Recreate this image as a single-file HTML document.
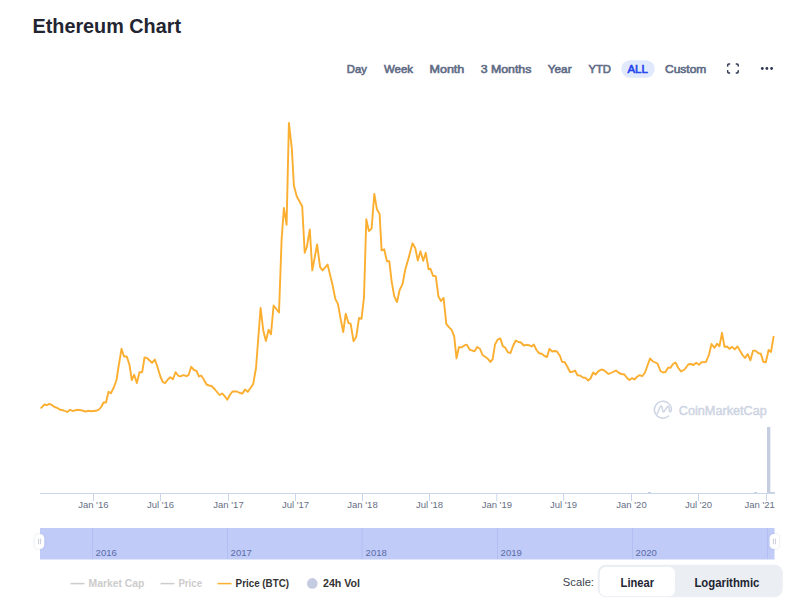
<!DOCTYPE html>
<html><head><meta charset="utf-8">
<style>
html,body{margin:0;padding:0;background:#fff;width:800px;height:603px;overflow:hidden}
svg{position:absolute;left:0;top:0;display:block}
text{font-family:"Liberation Sans",sans-serif}
</style></head>
<body>
<svg width="800" height="603" viewBox="0 0 800 603">
<!-- title -->
<text x="32.5" y="33" font-size="21" font-weight="700" fill="#222531" textLength="148.5" lengthAdjust="spacingAndGlyphs">Ethereum Chart</text>
<!-- toolbar -->
<g font-size="11" font-weight="400" fill="#5f6c86" stroke="#5f6c86" stroke-width="0.6">
<text x="346.8" y="72.8" textLength="20" lengthAdjust="spacingAndGlyphs">Day</text>
<text x="384" y="72.8" textLength="29" lengthAdjust="spacingAndGlyphs">Week</text>
<text x="429.5" y="72.8" textLength="34.8" lengthAdjust="spacingAndGlyphs">Month</text>
<text x="480.8" y="72.8" textLength="50.5" lengthAdjust="spacingAndGlyphs">3 Months</text>
<text x="547.8" y="72.8" textLength="23.8" lengthAdjust="spacingAndGlyphs">Year</text>
<text x="588.4" y="72.8" textLength="22.6" lengthAdjust="spacingAndGlyphs">YTD</text>
<rect x="621.3" y="60.3" width="33.4" height="17.5" rx="8.75" fill="#e1e9fc" stroke="none"/>
<text x="627.5" y="72.8" textLength="20.3" lengthAdjust="spacingAndGlyphs" fill="#1f44ee" stroke="#1f44ee">ALL</text>
<text x="665" y="72.8" textLength="41.3" lengthAdjust="spacingAndGlyphs">Custom</text>
</g>
<!-- fullscreen icon -->
<g stroke="#2e3753" stroke-width="1.5" fill="none" stroke-linecap="round" stroke-linejoin="round">
<path d="M727.7 66 V65 Q727.7 63.9 728.8 63.9 H729.6 M736.3 63.9 H737.1 Q738.2 63.9 738.2 65 V66 M738.2 70.8 V71.8 Q738.2 72.9 737.1 72.9 H736.3 M729.6 72.9 H728.8 Q727.7 72.9 727.7 71.8 V70.8"/>
</g>
<g fill="#2e3753">
<circle cx="762.3" cy="68.5" r="1.4"/><circle cx="766.9" cy="68.5" r="1.4"/><circle cx="771.6" cy="68.5" r="1.4"/>
</g>

<!-- watermark -->
<g fill="none" stroke="#cdd4e3" stroke-width="1.45" stroke-linecap="round" stroke-linejoin="round">
<path d="M671.4 410.2 A8.5 8.5 0 1 0 668.6 416"/>
<path d="M657.3 413.8 L660.1 406.8 Q661.1 404.9 662 406.9 L662.7 410.8 Q663.3 413 664.4 411.2 L667.2 406.9 Q668.3 405.2 668.9 407.4 L669.4 410.9 Q670.2 413.2 671.4 410.2"/>
</g>
<text x="678.8" y="414.8" font-size="12.5" font-weight="400" fill="#cdd4e3" stroke="#cdd4e3" stroke-width="0.45" textLength="88" lengthAdjust="spacingAndGlyphs">CoinMarketCap</text>

<!-- volume bars -->
<rect x="767" y="427" width="3.3" height="66.5" fill="#c5cde0"/>
<rect x="648" y="492" width="3" height="1.5" fill="#c5cde0"/>
<rect x="754" y="492" width="3" height="1.5" fill="#c5cde0"/>
<rect x="770" y="492" width="4.8" height="1.5" fill="#c5cde0"/>

<!-- x axis -->
<g stroke="#ccd6eb" stroke-width="1" fill="none">
<path d="M40 493.5 H775"/>
<path d="M93.5 493 V501 M160.5 493 V501 M228.5 493 V501 M295.5 493 V501 M362.5 493 V501 M429.5 493 V501 M496.8 493 V501 M563.5 493 V501 M631.5 493 V501 M698.5 493 V501 M766.5 493 V501"/>
</g>
<g font-size="9.5" fill="#666f86" text-anchor="middle">
<text x="93.3" y="508">Jan '16</text>
<text x="160.5" y="508">Jul '16</text>
<text x="228.5" y="508">Jan '17</text>
<text x="295.5" y="508">Jul '17</text>
<text x="362.5" y="508">Jan '18</text>
<text x="429.5" y="508">Jul '18</text>
<text x="496.8" y="508">Jan '19</text>
<text x="563.5" y="508">Jul '19</text>
<text x="631.5" y="508">Jan '20</text>
<text x="698.5" y="508">Jul '20</text>
<text x="759.7" y="508">Jan '21</text>
</g>

<!-- navigator -->
<rect x="40" y="528" width="734.5" height="31.5" fill="#c0cbf7"/>
<g stroke="#b3bef2" stroke-width="1">
<path d="M92.5 528 V559 M227.5 528 V559 M362 528 V559 M497.5 528 V559 M632.5 528 V559 M767.5 528 V559"/>
</g>
<g font-size="9.5" fill="#5a6aa8">
<text x="95.6" y="556.3">2016</text>
<text x="230.6" y="556.3">2017</text>
<text x="365.6" y="556.3">2018</text>
<text x="500.6" y="556.3">2019</text>
<text x="635.6" y="556.3">2020</text>
</g>
<!-- handles -->
<defs><filter id="sh" x="-50%" y="-50%" width="200%" height="200%"><feDropShadow dx="0" dy="0" stdDeviation="0.9" flood-color="#8090b0" flood-opacity="0.35"/></filter></defs>
<g filter="url(#sh)">
<rect x="34.8" y="533.9" width="9.4" height="15.2" rx="4.2" fill="#fff"/>
<rect x="769.6" y="533.9" width="9.4" height="15.2" rx="4.2" fill="#fff"/>
</g>
<path d="M38.6 538.6 V544.2 M40.6 538.6 V544.2 M773.4 538.6 V544.2 M775.4 538.6 V544.2" stroke="#c3c8d6" stroke-width="0.9"/>

<!-- price line -->
<path d="M41.2 407.8 L44.5 404.5 L46.8 405.2 L49.5 403.8 L51.5 404.8 L54.5 407 L57 407.8 L60 409.8 L64 410.5 L67.2 412 L70 409.8 L72.5 411 L77 409.8 L81 410.2 L85.5 411.5 L88 410.8 L91 411.3 L96 410.8 L99 409.5 L101.5 406.5 L103.5 402.5 L106 402.5 L108.5 391.8 L111 393.2 L114 387 L116.5 380 L118.5 367 L121.5 348.8 L124 356.5 L126.8 356.5 L129.5 365 L131.8 380 L134.2 374.8 L136.8 383 L139.5 372.2 L142.2 372.2 L144.5 357.5 L147.2 358.2 L152 362.8 L154.8 359.5 L157 365.5 L160.5 377 L162.8 382 L165 383.2 L168 379.2 L170.5 377.2 L173 379.2 L175.5 372.2 L178.5 376 L181 376.2 L183.5 375.2 L186.5 376.2 L188.5 375.2 L191.2 366.8 L194 370 L196.5 370.8 L199 376.5 L201.2 375.5 L203.5 379 L206.5 384.5 L209 385.5 L211.5 386 L215 389.5 L219.5 395 L222.2 393.5 L224.5 395.8 L227.2 399.8 L230 394.8 L232.5 391.5 L237 391.5 L239.8 393 L242.5 393.5 L245 389.5 L247.8 391.8 L250.5 388 L253.2 384 L256 368 L260.6 307.9 L263.3 330.5 L265.9 341.1 L268.6 329.8 L271 334.2 L273.6 305.5 L279 312.5 L281.6 239.8 L283.9 207.9 L286.6 224.8 L288.9 122.9 L291.8 148.1 L293.9 185.5 L296.7 196.2 L302.2 206.3 L304.7 252.7 L306.8 247.2 L309.8 229.5 L312.3 270.4 L317.1 244.4 L320.1 267.1 L322.6 270.4 L327.6 264.6 L332.5 284.8 L335.3 298.9 L337.9 303.9 L340.8 319.7 L343.2 332.1 L345.7 313.8 L348.5 323 L350.7 323.8 L353.5 341.2 L356.2 337.1 L359 318 L361.5 318.8 L364 297.3 L366.3 219.2 L368.9 231.1 L371.6 228.5 L374.3 193.9 L376.9 209.2 L379.6 213.9 L381.6 250.4 L384.2 249.3 L386.9 261.2 L389.3 261.2 L391.7 281.8 L394.3 296.4 L397 302 L399.7 289.8 L402.6 283.8 L405.2 269.8 L408.6 257.9 L412.5 243.3 L415.2 247.9 L417.8 260.5 L420.5 251.2 L423.2 260.8 L425.8 252.8 L428.5 269.2 L430.5 268.8 L433.1 275.8 L435.8 276.2 L438.4 296.4 L441 300.9 L443.6 298 L446.3 323.8 L448.9 327.1 L451.6 329.8 L454.2 336.4 L456.5 358.3 L458.9 347.3 L461.8 347.3 L464.4 345.4 L466.8 344.6 L469.7 349.7 L474.5 351.3 L477.2 347 L480.1 349 L482.5 355 L487.4 358.3 L490.4 361.9 L492.7 359.2 L495 344.4 L497.6 339.7 L500.3 338.4 L502.9 346.4 L505 347.3 L507.9 352.3 L510.5 353 L513 346 L515.8 340.5 L518.5 342 L521 342.5 L523.8 345.5 L526.5 344.8 L529 345.2 L531.5 346.5 L533.8 344.5 L536.5 350 L539 353.2 L541.8 353.8 L544.5 356 L547 357 L549.5 348.8 L552.2 351.5 L554.5 351 L557 351.5 L560 356 L562 361.8 L564.8 362.2 L567.5 367 L570 372 L572.5 371.8 L575 370.5 L577.5 375.2 L580 375.5 L583 377.5 L585.5 377.8 L588.2 380.5 L590.5 378.5 L593.2 372.5 L595.5 374.5 L598.5 371.2 L601.5 369.5 L604 370.2 L608.5 374 L612 372.5 L616 370.5 L619 373 L621.5 374 L624.5 374.5 L627 378 L629.5 380 L632 378.2 L634.5 379.5 L637 376.8 L639.5 375.2 L642.2 376.2 L645 372.5 L650 358.5 L653 361.5 L657.5 363.5 L660.5 371 L663 372.5 L665.5 372 L668 367.8 L670.5 367.8 L673 364 L675.5 362.5 L678 367.5 L681 371.5 L684.5 369.5 L688.5 364.2 L691 364 L693.5 365 L696.2 362.8 L699 364.8 L701.5 362.2 L706 362 L709 354.5 L711.5 344 L714.5 347.8 L717 343.8 L719.5 346.2 L722 332.8 L724.5 346.8 L727 346.5 L729.5 348.8 L732.2 346.9 L734.8 349.4 L737.5 346.4 L740 350.8 L742.4 354.8 L745.1 358 L747.7 354 L750.4 360.3 L753.1 350.6 L755.4 350.6 L758.4 353.3 L760.8 353.6 L763.3 361.8 L765.8 362.3 L768.6 350 L771 352 L773.6 336.7" fill="none" stroke="#fbae30" stroke-width="1.9" stroke-linejoin="round" stroke-linecap="round"/>

<!-- legend -->
<g stroke-width="1.5">
<path d="M70.5 583.6 H84.5" stroke="#cccccc"/>
<path d="M160.5 583.6 H174.5" stroke="#cccccc"/>
<path d="M217.5 583.6 H231.5" stroke="#fbae30"/>
</g>
<circle cx="312.3" cy="583.4" r="5.3" fill="#c5cbe0"/>
<g font-size="10.5" font-weight="700">
<text x="88.6" y="587" fill="#cccccc" textLength="55.8" lengthAdjust="spacingAndGlyphs">Market Cap</text>
<text x="178.4" y="587" fill="#cccccc" textLength="23.6" lengthAdjust="spacingAndGlyphs">Price</text>
<text x="235.6" y="587" fill="#333333" textLength="53.4" lengthAdjust="spacingAndGlyphs">Price (BTC)</text>
<text x="323" y="587" fill="#333333" textLength="37" lengthAdjust="spacingAndGlyphs">24h Vol</text>
</g>

<!-- scale toggle -->
<text x="562.8" y="585.6" font-size="11.5" fill="#3d4350" textLength="31.2" lengthAdjust="spacingAndGlyphs">Scale:</text>
<rect x="597.75" y="564.75" width="185" height="32.4" rx="8" fill="#ebeef3"/>
<rect x="599.75" y="566.9" width="75.3" height="29.4" rx="6" fill="#ffffff"/>
<g font-size="12" font-weight="700" fill="#222531">
<text x="620.6" y="586.6" textLength="33.4" lengthAdjust="spacingAndGlyphs">Linear</text>
<text x="694.4" y="586.6" textLength="65" lengthAdjust="spacingAndGlyphs">Logarithmic</text>
</g>
</svg>
</body></html>
